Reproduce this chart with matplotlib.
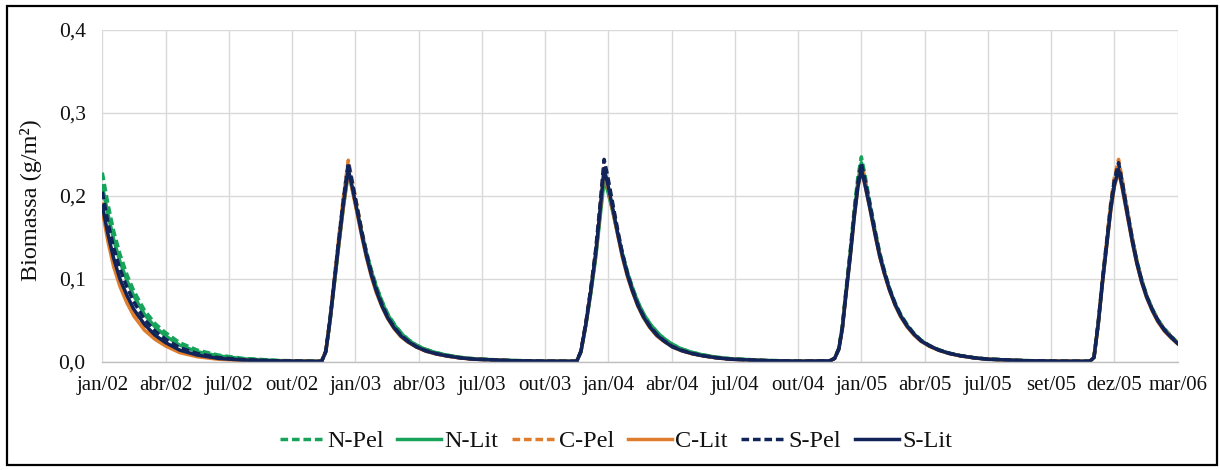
import matplotlib
matplotlib.use("Agg")
import matplotlib.pyplot as plt
from matplotlib.patches import Rectangle

# ---- data (day offsets from start of Jan/2002) ----
days = [0, 8, 16, 25, 35, 45, 60, 75, 90, 110, 135, 165, 200, 250, 300,
        312, 318, 324, 330, 336, 343, 350,
        355, 362, 370, 376, 383, 390, 398, 406, 415, 425, 435, 447, 460, 475, 490, 510, 530, 580, 630,
        675, 681, 688, 695, 702, 708, 714,
        719, 726, 734, 740, 747, 754, 762, 770, 779, 789, 799, 811, 824, 839, 854, 874, 894, 944, 994,
        1035, 1042, 1048, 1053, 1058, 1064, 1070, 1075, 1080,
        1085, 1092, 1100, 1106, 1113, 1120, 1128, 1136, 1145, 1155, 1165, 1177, 1190, 1205, 1220, 1240, 1260, 1310, 1360,
        1405, 1411, 1417, 1423, 1429, 1435, 1440, 1446,
        1451, 1458, 1466, 1472, 1479, 1486, 1494, 1502, 1511, 1521, 1530]

n_pel = [0.228, 0.190, 0.158, 0.130, 0.105, 0.085, 0.062, 0.046, 0.035, 0.023, 0.014, 0.008, 0.004, 0.0015, 0.0007,
         0.0005, 0.012, 0.049, 0.094, 0.139, 0.189, 0.232,
         0.214, 0.186, 0.154, 0.132, 0.110, 0.091, 0.073, 0.058, 0.046, 0.035, 0.027, 0.020, 0.015, 0.011, 0.008, 0.0052, 0.0035, 0.0015, 0.0007,
         0.0006, 0.012, 0.045, 0.084, 0.128, 0.176, 0.225,
         0.210, 0.185, 0.153, 0.131, 0.109, 0.090, 0.072, 0.058, 0.046, 0.036, 0.028, 0.021, 0.0155, 0.0113, 0.0083, 0.0054, 0.0036, 0.0015, 0.0007,
         0.001, 0.004, 0.016, 0.043, 0.085, 0.132, 0.185, 0.222, 0.247,
         0.226, 0.193, 0.157, 0.132, 0.109, 0.089, 0.071, 0.057, 0.045, 0.034, 0.026, 0.0195, 0.0145, 0.0104, 0.0075, 0.0049, 0.0032, 0.0014, 0.0006,
         0.0005, 0.005, 0.046, 0.097, 0.143, 0.189, 0.218, 0.238,
         0.218, 0.184, 0.147, 0.122, 0.099, 0.080, 0.064, 0.051, 0.040, 0.031, 0.023]

n_lit = [0.212, 0.178, 0.148, 0.121, 0.098, 0.079, 0.057, 0.042, 0.031, 0.020, 0.012, 0.007, 0.0035, 0.0013, 0.0006,
         0.0005, 0.012, 0.049, 0.093, 0.137, 0.186, 0.228,
         0.211, 0.184, 0.153, 0.131, 0.109, 0.090, 0.072, 0.057, 0.045, 0.0345, 0.0265, 0.0197, 0.0148, 0.0108, 0.0079, 0.0051, 0.0034, 0.0015, 0.0007,
         0.0006, 0.012, 0.044, 0.082, 0.125, 0.172, 0.219,
         0.206, 0.182, 0.152, 0.130, 0.108, 0.090, 0.072, 0.058, 0.046, 0.036, 0.028, 0.021, 0.0155, 0.0113, 0.0083, 0.0054, 0.0036, 0.0015, 0.0007,
         0.001, 0.004, 0.016, 0.042, 0.083, 0.129, 0.181, 0.217, 0.240,
         0.221, 0.190, 0.155, 0.131, 0.108, 0.088, 0.070, 0.056, 0.044, 0.0335, 0.0255, 0.0192, 0.0143, 0.0102, 0.0074, 0.0048, 0.0031, 0.0013, 0.0006,
         0.0005, 0.005, 0.045, 0.095, 0.141, 0.186, 0.214, 0.232,
         0.213, 0.181, 0.145, 0.120, 0.097, 0.079, 0.063, 0.050, 0.039, 0.030, 0.0225]

c_pel = [0.192, 0.154, 0.124, 0.098, 0.077, 0.060, 0.042, 0.030, 0.021, 0.013, 0.007, 0.0035, 0.0018, 0.0008, 0.0004,
         0.0004, 0.013, 0.052, 0.099, 0.146, 0.198, 0.243,
         0.221, 0.190, 0.154, 0.129, 0.106, 0.086, 0.068, 0.053, 0.041, 0.031, 0.024, 0.018, 0.013, 0.0095, 0.007, 0.0045, 0.003, 0.0013, 0.0006,
         0.0005, 0.012, 0.046, 0.087, 0.133, 0.184, 0.237,
         0.219, 0.189, 0.154, 0.129, 0.106, 0.087, 0.068, 0.054, 0.042, 0.032, 0.025, 0.018, 0.0135, 0.0098, 0.0072, 0.0047, 0.003, 0.0013, 0.0006,
         0.001, 0.004, 0.016, 0.041, 0.082, 0.128, 0.179, 0.214, 0.238,
         0.219, 0.189, 0.154, 0.129, 0.107, 0.087, 0.069, 0.055, 0.043, 0.033, 0.025, 0.019, 0.014, 0.010, 0.0073, 0.0047, 0.003, 0.0013, 0.0006,
         0.0005, 0.005, 0.047, 0.099, 0.146, 0.193, 0.222, 0.244,
         0.221, 0.186, 0.147, 0.122, 0.098, 0.079, 0.063, 0.050, 0.039, 0.030, 0.0225]

c_lit = [0.182, 0.145, 0.115, 0.091, 0.071, 0.055, 0.038, 0.027, 0.019, 0.011, 0.006, 0.003, 0.0015, 0.0007, 0.0003,
         0.0004, 0.012, 0.049, 0.094, 0.138, 0.187, 0.229,
         0.210, 0.181, 0.148, 0.125, 0.102, 0.083, 0.066, 0.052, 0.040, 0.030, 0.0235, 0.0175, 0.0127, 0.0093, 0.0068, 0.0044, 0.0029, 0.0012, 0.0005,
         0.0005, 0.012, 0.045, 0.085, 0.129, 0.178, 0.230,
         0.212, 0.183, 0.150, 0.126, 0.103, 0.085, 0.067, 0.053, 0.041, 0.031, 0.0245, 0.0178, 0.0132, 0.0096, 0.007, 0.0046, 0.0029, 0.0012, 0.0005,
         0.001, 0.004, 0.015, 0.040, 0.080, 0.125, 0.175, 0.210, 0.232,
         0.214, 0.185, 0.151, 0.127, 0.105, 0.086, 0.068, 0.054, 0.042, 0.032, 0.0245, 0.0185, 0.0137, 0.0098, 0.0071, 0.0046, 0.0029, 0.0012, 0.0005,
         0.0005, 0.005, 0.044, 0.094, 0.139, 0.183, 0.211, 0.229,
         0.210, 0.178, 0.142, 0.118, 0.095, 0.077, 0.061, 0.048, 0.037, 0.0285, 0.0215]

s_pel = [0.205, 0.168, 0.138, 0.112, 0.090, 0.072, 0.051, 0.037, 0.027, 0.017, 0.010, 0.005, 0.0025, 0.001, 0.0005,
         0.0004, 0.013, 0.052, 0.098, 0.144, 0.196, 0.240,
         0.219, 0.189, 0.154, 0.130, 0.107, 0.087, 0.069, 0.054, 0.042, 0.032, 0.025, 0.018, 0.0135, 0.0098, 0.0072, 0.0046, 0.0031, 0.0013, 0.0006,
         0.0005, 0.013, 0.047, 0.088, 0.135, 0.187, 0.244,
         0.224, 0.192, 0.156, 0.131, 0.107, 0.088, 0.069, 0.055, 0.043, 0.033, 0.0255, 0.0185, 0.0138, 0.010, 0.0074, 0.0048, 0.0031, 0.0013, 0.0006,
         0.001, 0.004, 0.016, 0.042, 0.083, 0.129, 0.180, 0.216, 0.240,
         0.220, 0.190, 0.155, 0.130, 0.108, 0.088, 0.070, 0.056, 0.044, 0.0335, 0.0255, 0.0193, 0.0142, 0.0102, 0.0074, 0.0048, 0.0031, 0.0013, 0.0006,
         0.0005, 0.005, 0.047, 0.098, 0.144, 0.190, 0.219, 0.240,
         0.218, 0.184, 0.146, 0.121, 0.098, 0.079, 0.063, 0.050, 0.039, 0.030, 0.0225]

s_lit = [0.188, 0.154, 0.125, 0.100, 0.080, 0.063, 0.045, 0.032, 0.023, 0.014, 0.008, 0.004, 0.002, 0.0009, 0.0004,
         0.0004, 0.012, 0.050, 0.095, 0.140, 0.190, 0.232,
         0.213, 0.184, 0.150, 0.127, 0.104, 0.085, 0.067, 0.053, 0.041, 0.031, 0.024, 0.018, 0.013, 0.0095, 0.007, 0.0045, 0.003, 0.0013, 0.0006,
         0.0005, 0.012, 0.045, 0.085, 0.130, 0.180, 0.233,
         0.215, 0.186, 0.152, 0.128, 0.105, 0.086, 0.068, 0.054, 0.042, 0.032, 0.025, 0.018, 0.0135, 0.0098, 0.0072, 0.0047, 0.003, 0.0013, 0.0006,
         0.001, 0.004, 0.015, 0.040, 0.080, 0.125, 0.175, 0.210, 0.232,
         0.214, 0.186, 0.152, 0.128, 0.106, 0.087, 0.069, 0.055, 0.043, 0.033, 0.025, 0.019, 0.014, 0.010, 0.0073, 0.0047, 0.003, 0.0013, 0.0006,
         0.0005, 0.005, 0.045, 0.095, 0.140, 0.185, 0.213, 0.232,
         0.212, 0.180, 0.143, 0.119, 0.096, 0.078, 0.062, 0.049, 0.038, 0.029, 0.022]

tick_labels = ["jan/02", "abr/02", "jul/02", "out/02", "jan/03", "abr/03", "jul/03", "out/03",
               "jan/04", "abr/04", "jul/04", "out/04", "jan/05", "abr/05", "jul/05", "set/05",
               "dez/05", "mar/06"]
tick_step = 90
y_ticks = [0.0, 0.1, 0.2, 0.3, 0.4]

series = [("N-Pel", n_pel), ("N-Lit", n_lit), ("C-Pel", c_pel),
          ("C-Lit", c_lit), ("S-Pel", s_pel), ("S-Lit", s_lit)]

# ---- style ----
GREEN = "#17A35A"
ORANGE = "#E07D2C"
NAVY = "#112459"
colors = {"N": GREEN, "C": ORANGE, "S": NAVY}

plt.rcParams["font.family"] = ["Liberation Serif", "DejaVu Serif"]

W, H = 1220, 470
fig = plt.figure(figsize=(W / 100, H / 100), dpi=100)
ax = fig.add_axes([102.3 / W, 1 - 361.7 / H, (1177.6 - 102.3) / W, (361.7 - 30) / H])

for name, vals in series:
    c = colors[name[0]]
    if name.endswith("Pel"):
        ax.plot(days, vals, color=c, lw=2.5, dashes=(2.2, 1.1), label=name,
                dash_capstyle="butt", solid_joinstyle="round")
    else:
        ax.plot(days, vals, color=c, lw=2.5, label=name, solid_joinstyle="round")

ax.set_xlim(0, tick_step * (len(tick_labels) - 1))
ax.set_ylim(0, 0.4)
ax.set_xticks([i * tick_step for i in range(len(tick_labels))])
ax.set_xticklabels(tick_labels)
ax.set_yticks(y_ticks)
ax.set_yticklabels([f"{v:.1f}".replace(".", ",") for v in y_ticks])
ax.tick_params(axis="x", length=0, pad=10, labelsize=15, labelcolor="#111111")
ax.tick_params(axis="y", length=0, pad=12, labelsize=15.5, labelcolor="#111111")
ax.grid(True, color="#D9D9D9", lw=1.0)
ax.set_axisbelow(True)
for s in ["top", "left", "right"]:
    ax.spines[s].set_visible(False)
ax.spines["bottom"].set_color("#BFBFBF")
ax.spines["bottom"].set_linewidth(1.0)

fig.text(31 / W, 1 - 200 / H, "Biomassa (g/m²)", rotation=90, ha="center", va="center",
         fontsize=17.5, color="#111111")

fig.legend(loc="center", bbox_to_anchor=(616 / W, 1 - 441 / H), ncol=6, frameon=False,
           fontsize=17.5, handlelength=1.8, handletextpad=0.15, columnspacing=0.55,
           labelcolor="#111111")

fig.add_artist(Rectangle((7 / W, 1 - 465 / H), (1217 - 7) / W, (465 - 6) / H,
                         transform=fig.transFigure, fill=False, edgecolor="black", lw=1.6))

fig.savefig("out.png", dpi=100)
